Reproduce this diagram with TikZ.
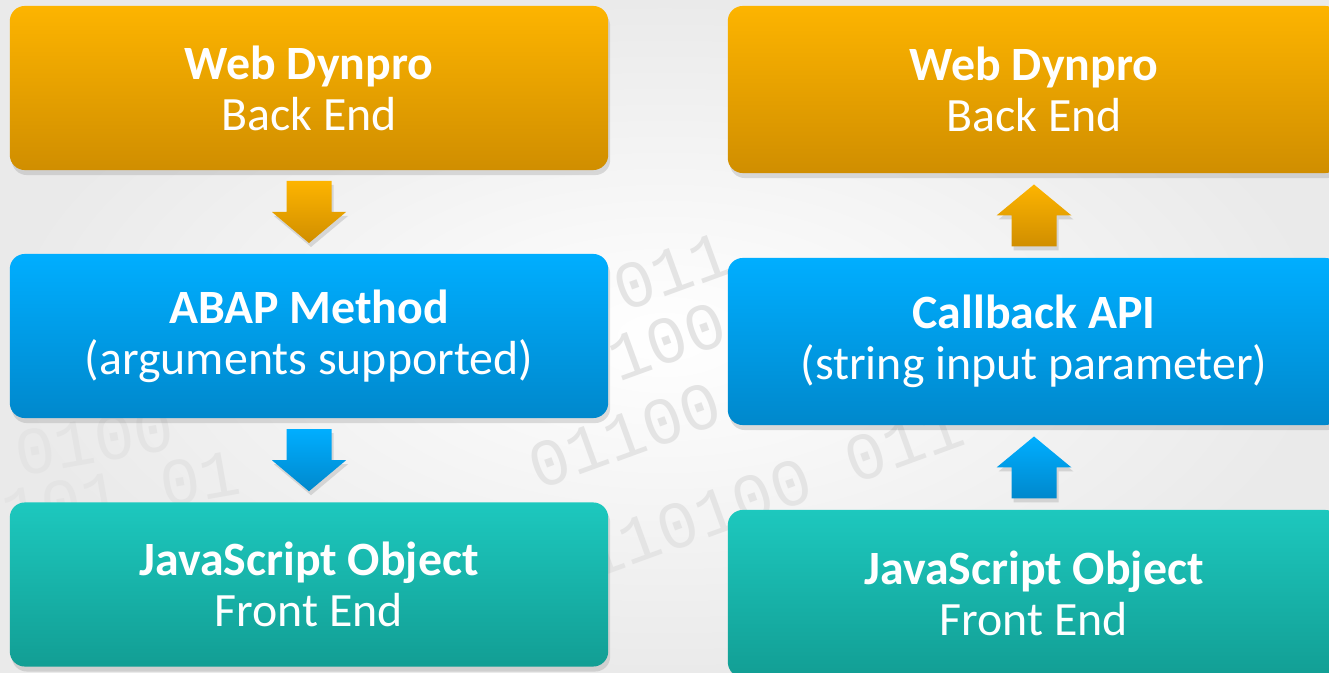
\documentclass[tikz,border=0pt]{standalone}
\usepackage{fontspec}
\setmainfont{Carlito}
\newfontfamily\bitsfont{Liberation Mono}
\usetikzlibrary{calc,shadows}

\definecolor{orTop}{RGB}{253,180,0}
\definecolor{orBot}{RGB}{208,142,0}
\definecolor{blTop}{RGB}{0,174,255}
\definecolor{blBot}{RGB}{0,136,204}
\definecolor{tlTop}{RGB}{29,200,190}
\definecolor{tlBot}{RGB}{18,158,148}
\definecolor{bgOut}{RGB}{234,234,234}
\definecolor{bitGray}{RGB}{228,228,228}

\begin{document}
\begin{tikzpicture}[x=0.01cm, y=-0.01cm,
    box/.style={rectangle, rounded corners=0.15cm, minimum width=5.98cm, minimum height=1.64cm,
        align=center, text=white, font=\fontsize{13.6}{14.5}\selectfont,
        drop shadow={shadow xshift=0.02cm, shadow yshift=-0.05cm, opacity=0.25}},
    wide/.style={minimum width=6.12cm, minimum height=1.67cm},
    orbox/.style={box, top color=orTop, bottom color=orBot},
    blbox/.style={box, top color=blTop, bottom color=blBot},
    tlbox/.style={box, top color=tlTop, bottom color=tlBot},
    bits/.style={anchor=west, rotate=20, inner sep=0pt, text=bitGray, font=\bitsfont\fontsize{19}{19}\selectfont},
    flatbits/.style={bits, rotate=-10},
    arrshadow/.style={drop shadow={shadow xshift=0.02cm, shadow yshift=-0.04cm, opacity=0.25}}]

    \useasboundingbox (0,0) rectangle (1329,673);
    \clip (0,0) rectangle (1329,673);
    \shade[inner color=white, outer color=bgOut] (0,0) rectangle (1329,673);

    % binary watermark
    \node[flatbits] (bits1) at (15,455) {0100};
    \node[flatbits] (bits2) at (2,514) {101 01};
    \node[bits] (bits3) at (530,470) {01100};
    \node[bits] (bits4) at (615,292) {011};
    \node[bits] (bits5) at (610,362) {100};
    \node[bits] (bits6) at (583,560) {110100 011};

    % left column
    \node[orbox] (wdl) at (309,88) {\textbf{Web Dynpro}\\Back End};
    \node[blbox] (abap) at (309,336) {\textbf{ABAP Method}\\(arguments supported)};
    \node[tlbox] (jsl) at (309,584.5) {\textbf{JavaScript Object}\\Front End};

    % right column
    \node[orbox, wide] (wdr) at (1034,89.5) {\textbf{Web Dynpro}\\Back End};
    \node[blbox, wide] (cb) at (1034,341.5) {\textbf{Callback API}\\(string input parameter)};
    \node[tlbox, wide] (jsr) at (1034,593.5) {\textbf{JavaScript Object}\\Front End};

    \coordinate (g1) at ($(wdl.south)!0.5!(abap.north)$);
    \coordinate (g2) at ($(abap.south)!0.5!(jsl.north)$);
    \coordinate (g3) at ($(wdr.south)!0.5!(cb.north)$);
    \coordinate (g4) at ($(cb.south)!0.5!(jsr.north)$);

    % block arrows
    \shade[arrshadow, top color=orTop, bottom color=orBot] ($(g1)+(-22.5,-31)$) -- ++(45,0) -- ++(0,31) -- ++(14.5,0) -- ++(-37,31) -- ++(-37,-31) -- ++(14.5,0) -- cycle;
    \shade[arrshadow, top color=blTop, bottom color=blBot] ($(g2)+(-22.5,-31)$) -- ++(45,0) -- ++(0,31) -- ++(14.5,0) -- ++(-37,31) -- ++(-37,-31) -- ++(14.5,0) -- cycle;
    \shade[arrshadow, top color=orTop, bottom color=orBot] ($(g3)+(0,-31)$) -- ++(37.5,31) -- ++(-15,0) -- ++(0,31) -- ++(-45,0) -- ++(0,-31) -- ++(-15,0) -- cycle;
    \shade[arrshadow, top color=blTop, bottom color=blBot] ($(g4)+(0,-31)$) -- ++(37.5,31) -- ++(-15,0) -- ++(0,31) -- ++(-45,0) -- ++(0,-31) -- ++(-15,0) -- cycle;

\end{tikzpicture}
\end{document}
